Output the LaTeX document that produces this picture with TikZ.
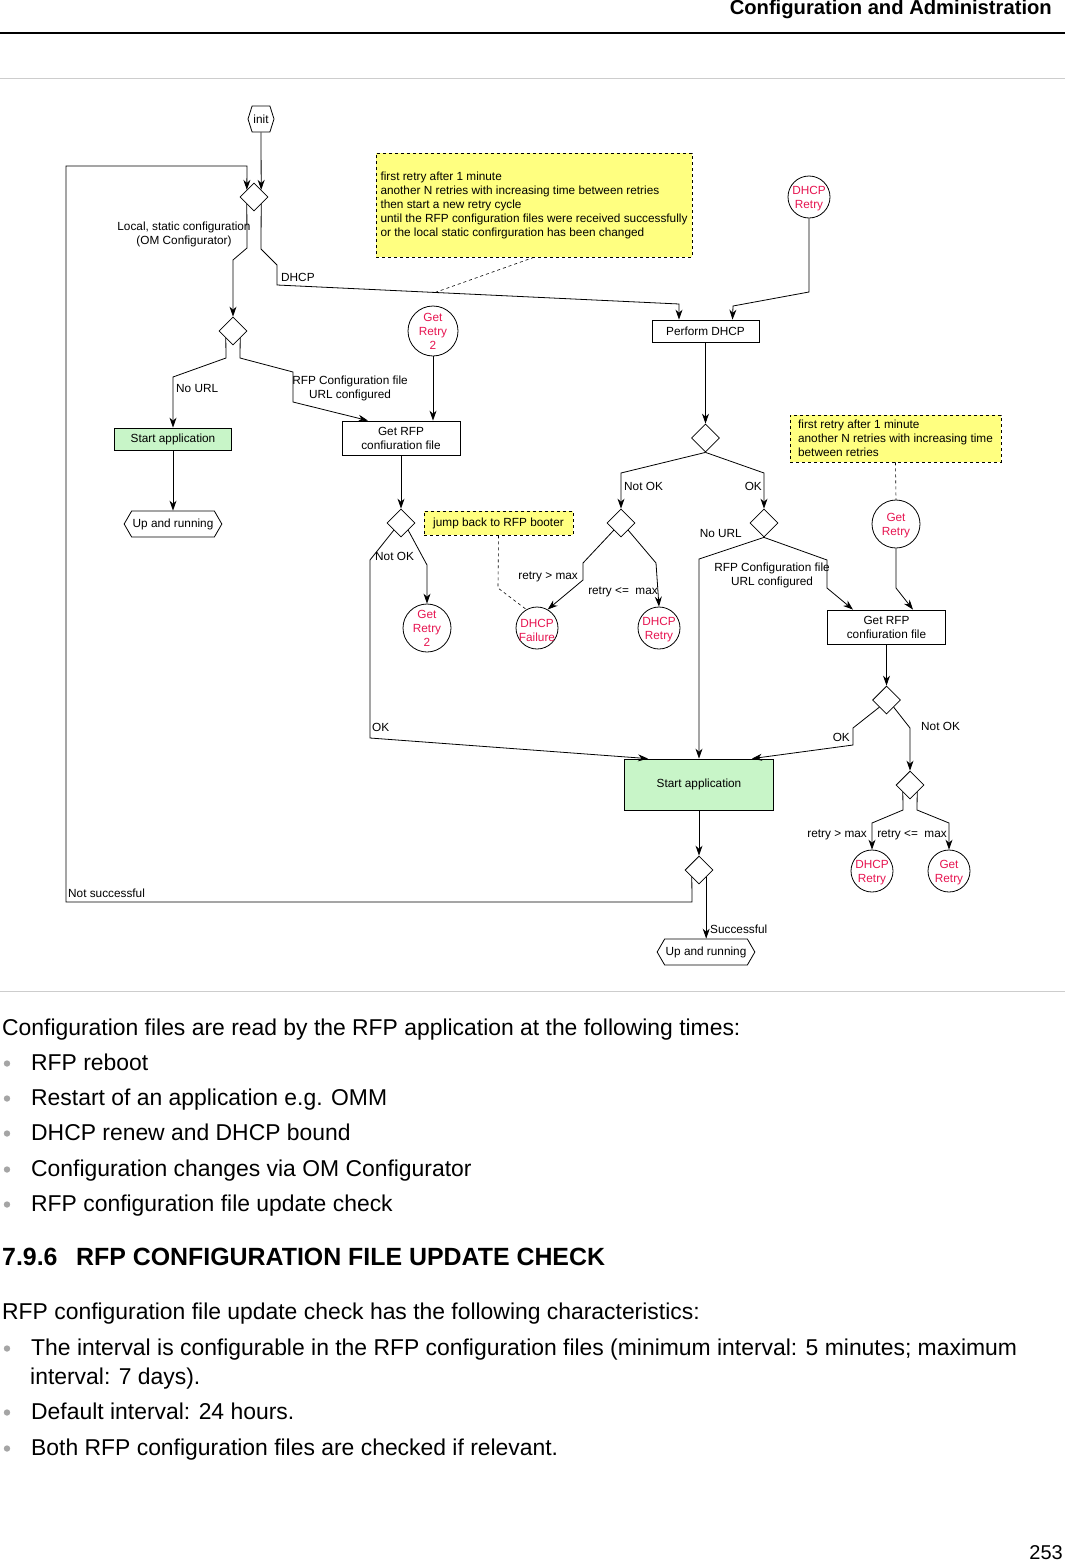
\documentclass[tikz,border=0pt]{standalone}
\usepackage{fontspec}
\setmainfont{Liberation Sans}
\usepackage{tikz}
\usetikzlibrary{arrows.meta,shapes.geometric,shapes.symbols}
\definecolor{notey}{RGB}{255,255,128}
\definecolor{startg}{RGB}{200,245,200}
\definecolor{retryred}{RGB}{230,20,80}
\definecolor{rulegray}{RGB}{205,205,205}
\definecolor{dotgray}{RGB}{165,165,165}
\newcommand{\diagfnt}{\fontsize{11.8}{14}\selectfont}
\newcommand{\hdrfnt}{\fontsize{20.2}{24}\selectfont\bfseries}
\newcommand{\bodyfnt}{\fontsize{22.9}{27}\selectfont}
\newcommand{\secfnt}{\fontsize{24.9}{30}\selectfont\bfseries}
\newcommand{\pgnfnt}{\fontsize{20}{24}\selectfont}

\begin{document}
\begin{tikzpicture}[x=1pt, y=-1pt, font=\diagfnt,
  arr/.style={-{Stealth[length=10pt,width=7pt]}, line width=0.8pt},
  dia/.style={diamond, draw, line width=0.8pt, inner sep=0pt, minimum width=28pt, minimum height=28pt},
  box/.style={rectangle, draw, line width=0.8pt, align=center, inner sep=2pt},
  startbox/.style={box, fill=startg},
  hexbox/.style={signal, signal to=east and west, signal pointer angle=120, draw, line width=0.8pt, inner sep=1pt, minimum height=26pt},
  retry/.style={circle, draw, line width=0.8pt, inner sep=0pt},
  rtext/.style={text=retryred, align=center, inner sep=0pt},
  note/.style={rectangle, draw, dashed, fill=notey, line width=0.6pt, align=left, inner sep=2pt},
  notelink/.style={dashed, line width=0.6pt},
  lbl/.style={inner sep=0pt},
  body/.style={font=\bodyfnt, inner sep=0pt, anchor=base west}]
  \useasboundingbox (0,0) rectangle (1065,1563);

  % Page head and rules
  \node[anchor=base east, inner sep=0pt, font=\hdrfnt] (head) at (1052,15) {Configuration and Administration};
  \draw[line width=2pt] (0,33) -- (1065,33);
  \draw[rulegray, line width=1pt] (0,78) -- (1065,78);
  \draw[rulegray, line width=1pt] (0,991) -- (1065,991);

  % Notes
  \node[note, minimum width=316pt, minimum height=104pt] (noteA) at (534,205)
    {first retry after 1 minute\\another N retries with increasing time between retries\\then start a new retry cycle\\until the RFP configuration files were received successfully\\or the local static confirguration has been changed};
  \node[note, minimum width=211pt, minimum height=47pt] (noteB) at (895.5,438.5)
    {first retry after 1 minute\\another N retries with increasing time\\between retries};
  \node[note, minimum width=149pt, minimum height=24pt] (noteC) at (498.5,523) {jump back to RFP booter};

  % Decisions
  \node[hexbox, signal pointer angle=145, minimum width=26pt] (init) at (261,119) {init};
  \node[dia] (d1) at (254,197) {};
  \node[dia] (d2) at (233,331) {};
  \node[dia] (d3) at (705.5,438) {};
  \node[dia] (d4) at (621,523) {};
  \node[dia] (d5) at (764,523) {};
  \node[dia] (d6) at (401,523) {};
  \node[dia] (d7) at (886.5,700) {};
  \node[dia] (d8) at (910,785) {};
  \node[dia] (d9) at (699,870) {};

  % Actions
  \node[box, minimum width=107pt, minimum height=22pt] (dhcp) at (705.5,331) {Perform DHCP};
  \node[box, minimum width=118pt, minimum height=34pt] (getrfpa) at (401,438) {Get RFP\\confiuration file};
  \node[box, minimum width=118pt, minimum height=34pt] (getrfpb) at (886.5,627) {Get RFP\\confiuration file};
  \node[startbox, minimum width=117pt, minimum height=22pt] (starta) at (173,439) {Start application};
  \node[startbox, minimum width=149pt, minimum height=51pt] (startb) at (699,784.5) {Start application};
  \node[hexbox, minimum width=97pt] (upa) at (173,524) {Up and running};
  \node[hexbox, minimum width=95pt] (upb) at (706,952) {Up and running};

  % Retry states
  \node[retry, minimum size=50pt] (getretrya) at (433,331) {};
  \node[rtext] (getretryat) at ([yshift=-0.5]getretrya) {Get\\Retry\\2};
  \node[retry, minimum size=42pt] (dhcpretrya) at (809,197) {};
  \node[rtext] (dhcpretryat) at ([yshift=-2]dhcpretrya) {DHCP\\Retry};
  \node[retry, minimum size=48pt] (getretryb) at (427,628) {};
  \node[rtext] (getretrybt) at ([yshift=-0.5]getretryb) {Get\\Retry\\2};
  \node[retry, minimum size=42pt] (dhcpfail) at (537,628) {};
  \node[rtext] (dhcpfailt) at ([yshift=-2]dhcpfail) {DHCP\\Failure};
  \node[retry, minimum size=42pt] (dhcpretryb) at (659,628) {};
  \node[rtext] (dhcpretrybt) at ([yshift=-2]dhcpretryb) {DHCP\\Retry};
  \node[retry, minimum size=48pt] (getretryc) at (896,524) {};
  \node[rtext] (getretryct) at ([yshift=-2]getretryc) {Get\\Retry};
  \node[retry, minimum size=42pt] (dhcpretryc) at (872,871) {};
  \node[rtext] (dhcpretryct) at ([yshift=-2]dhcpretryc) {DHCP\\Retry};
  \node[retry, minimum size=42pt] (getretryd) at (949,871) {};
  \node[rtext] (getretrydt) at ([yshift=-2]getretryd) {Get\\Retry};

  % Flow
  \draw[arr] (init.south) -- (d1.north east);
  \draw[arr] (d9.south west) -- (692,902) -- (66,902) -- (66,166) -- (247,166) -- (d1.north west);
  \draw[arr] (d1.south west) -- (247,248) -- (233,260) -- (d2.north);
  \draw[arr] (d1.south east) -- (261,249) -- (277,265) -- (277,285) -- (679,304) -- ([xshift=-26.5]dhcp.north);
  \draw[arr] (dhcpretrya.south) -- (809,292) -- (733,306) -- ([xshift=27]dhcp.north);
  \draw[arr] (getretrya.south) -- (getretrya.south |- getrfpa.north);
  \draw[arr] (dhcp.south) -- (d3.north);
  \draw[arr] (d3.south) -- (621,473) -- (d4.north);
  \draw[arr] (d3.south) -- (764,473) -- (d5.north);
  \draw[arr] (d4.south west) -- (583,563) -- (583,580) -- (dhcpfail.60);
  \draw[arr] (d4.south east) -- (656,563) -- (dhcpretryb.north);
  \draw[arr] (d2.south west) -- (226,358) -- (173,377) -- (starta.north);
  \draw[arr] (d2.south east) -- (240,358) -- (293,372) -- (293,402) -- ([xshift=-33]getrfpa.north);
  \draw[arr] (starta.south) -- (upa.north);
  \draw[arr] (getrfpa.south) -- (d6.north);
  \draw[arr] (d6.south east) -- (427,565) -- (getretryb.north);
  \draw[arr] (d6.south west) -- (370,560) -- (370,738) -- ([xshift=-51]startb.north);
  \draw[arr] (d5.south) -- (699,559) -- (startb.north);
  \draw[arr] (d5.south) -- (827,560) -- (827,588) -- ([xshift=-33.5]getrfpb.north);
  \draw[arr] (getretryc.south) -- (896,588) -- ([xshift=26.5]getrfpb.north);
  \draw[arr] (getrfpb.south) -- (d7.north);
  \draw[arr] (d7.south west) -- (853,728) -- (853,745) -- ([xshift=53]startb.north);
  \draw[arr] (d7.south east) -- (910,728) -- (d8.north);
  \draw[arr] (d8.south west) -- (903,810) -- (872,823) -- (dhcpretryc.north);
  \draw[arr] (d8.south east) -- (917,810) -- (949,823) -- (getretryd.north);
  \draw[arr] (startb.south) -- (d9.north);
  \draw[arr] (d9.south east) -- (d9.south east |- upb.north);

  % Note links
  \coordinate (ondhcp) at (435,292.5);
  \draw[notelink] (noteA.south) -- (ondhcp);
  \draw[notelink] (noteB.south) -- (getretryc.north);
  \draw[notelink] (noteC.south) -- (498,588) -- (dhcpfail.120);

  % Branch labels
  \node[lbl, align=center] (lLocal) at (184,234.5) {Local, static configuration\\(OM Configurator)};
  \node[lbl, anchor=base west] (lDHCP) at (281,281) {DHCP};
  \node[lbl, anchor=base west] (lNoURLa) at (176,392) {No URL};
  \node[lbl, align=center] (lURLa) at (350,388) {RFP Configuration file\\URL configured};
  \node[lbl, anchor=base west] (lNotOKa) at (624,490) {Not OK};
  \node[lbl, anchor=base east] (lOKa) at (762,490) {OK};
  \node[lbl, anchor=base east] (lMaxa) at (578,579) {retry > max};
  \node[lbl, anchor=base] (lLeqa) at (623,594) {retry <=\ \ max};
  \node[lbl, anchor=base west] (lNotOKb) at (375,560) {Not OK};
  \node[lbl, anchor=base west] (lOKb) at (372,731) {OK};
  \node[lbl, anchor=base east] (lNoURLb) at (742,537) {No URL};
  \node[lbl, align=center] (lURLb) at (772,575) {RFP Configuration file\\URL configured};
  \node[lbl, anchor=base east] (lOKc) at (850,741) {OK};
  \node[lbl, anchor=base west] (lNotOKc) at (921,730) {Not OK};
  \node[lbl, anchor=base east] (lMaxb) at (867,837) {retry > max};
  \node[lbl, anchor=base] (lLeqb) at (912,837) {retry <=\ \ max};
  \node[lbl, anchor=base west] (lSucc) at (710,933) {Successful};
  \node[lbl, anchor=base west] (lNotSucc) at (68,897) {Not successful};

  % Text below the diagram
  \node[body] (intro) at (2,1035) {Configuration files are read by the RFP application at the following times:};
  \node[body] (ia) at (31,1070) {RFP reboot};
  \node[body] (ib) at (31,1105) {Restart of an application e.g. OMM};
  \node[body] (ic) at (31,1140) {DHCP renew and DHCP bound};
  \node[body] (id) at (31,1176) {Configuration changes via OM Configurator};
  \node[body] (ie) at (31,1211) {RFP configuration file update check};
  \node[body, font=\secfnt] (secnum) at (2,1265) {7.9.6};
  \node[body, font=\secfnt] (sectitle) at (76,1265) {RFP CONFIGURATION FILE UPDATE CHECK};
  \node[body] (chars) at (2,1319) {RFP configuration file update check has the following characteristics:};
  \node[body] (ca) at (31,1355) {The interval is configurable in the RFP configuration files (minimum interval: 5 minutes; maximum};
  \node[body] (cb) at (30,1384) {interval: 7 days).};
  \node[body] (cc) at (31,1419) {Default interval: 24 hours.};
  \node[body] (cd) at (31,1455) {Both RFP configuration files are checked if relevant.};
  \node[body, anchor=base east, font=\pgnfnt] (pagenum) at (1063,1559) {253};

  % Bullets
  \fill[dotgray] (7,1063.5) circle (3.2);
  \fill[dotgray] (7,1098.5) circle (3.2);
  \fill[dotgray] (7,1133.5) circle (3.2);
  \fill[dotgray] (7,1169.5) circle (3.2);
  \fill[dotgray] (7,1204.5) circle (3.2);
  \fill[dotgray] (7,1348.5) circle (3.2);
  \fill[dotgray] (7,1412.5) circle (3.2);
  \fill[dotgray] (7,1448.5) circle (3.2);
\end{tikzpicture}
\end{document}
